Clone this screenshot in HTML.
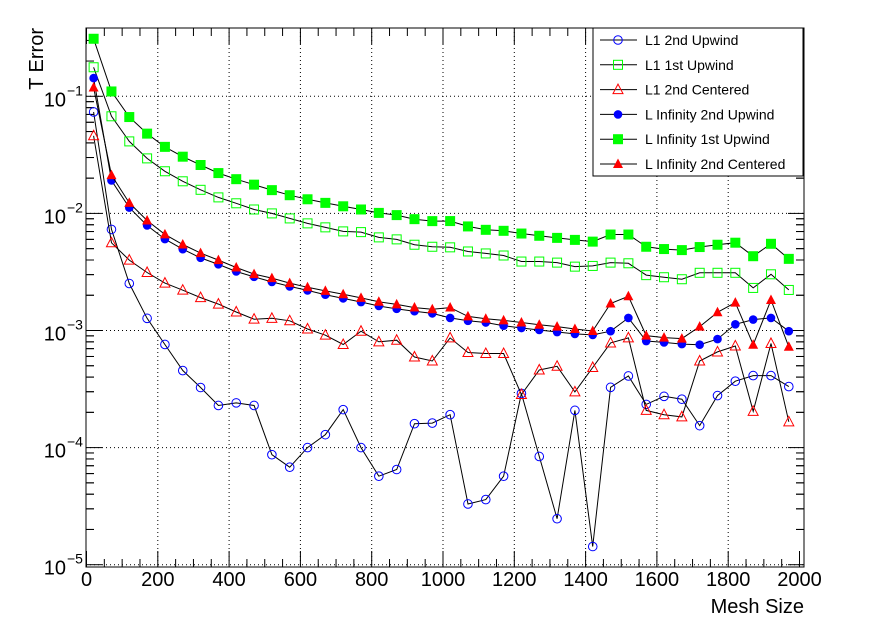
<!DOCTYPE html>
<html><head><meta charset="utf-8"><style>
body{margin:0;background:#fff;}
svg{display:block;font-family:"Liberation Sans",Arial,sans-serif;}
</style></head><body>
<svg id="chart" width="888" height="631" viewBox="0 0 888 631" xmlns="http://www.w3.org/2000/svg">
<rect width="888" height="631" fill="#fff"/>
<g id="grid"></g>
<g id="axes"></g>
<g id="series"></g>
<rect x="86" y="28" width="718" height="539" fill="none" stroke="#000" stroke-width="1"/>
<text x="804" y="613" text-anchor="end" font-size="20">Mesh Size</text>
<text transform="translate(43,28) rotate(-90)" text-anchor="end" font-size="20">T Error</text>
<g id="legend">
<rect x="593" y="28" width="210" height="148" fill="#fff" stroke="#000" stroke-width="1"/>
</g>
</svg>
<script>
const xValues=[20,70,120,170,220,270,320,370,420,470,520,570,620,670,720,770,820,870,920,970,1020,1070,1120,1170,1220,1270,1320,1370,1420,1470,1520,1570,1620,1670,1720,1770,1820,1870,1920,1970];
const l1SecondUpwind=[0.0735,0.0073,0.00252,0.00127,0.00076,0.000455,0.000326,0.000229,0.000241,0.000229,8.7e-5,6.8e-5,1.0e-4,0.000129,0.000211,1.0e-4,5.7e-5,6.5e-5,0.00016,0.000162,0.000191,3.3e-5,3.6e-5,5.7e-5,0.00029,8.4e-5,2.47e-5,0.000208,1.43e-5,0.000327,0.000409,0.000234,0.000274,0.000259,0.000154,0.000278,0.000369,0.000412,0.000412,0.000332];
const l1FirstUpwind=[0.177,0.0675,0.0412,0.0295,0.0229,0.0188,0.0159,0.0137,0.0122,0.0108,0.0100,0.00906,0.00822,0.0076,0.00702,0.00692,0.00624,0.006,0.0054,0.00519,0.00513,0.00473,0.00455,0.00437,0.00388,0.00388,0.0038,0.00351,0.00356,0.0038,0.00375,0.00297,0.00285,0.00274,0.00311,0.00311,0.00311,0.00231,0.00302,0.00222];
const l1SecondCentered=[0.046,0.00561,0.00399,0.00313,0.00254,0.00221,0.00191,0.00168,0.00144,0.00125,0.00127,0.00121,0.00103,0.000912,0.000759,0.000986,0.0008,0.000826,0.000594,0.000549,0.000865,0.000649,0.000636,0.000636,0.000284,0.00046,0.000495,0.000299,0.000483,0.000783,0.000865,0.000208,0.000191,0.000183,0.000549,0.000656,0.000738,0.000204,0.000775,0.000166];
const lInfSecondUpwind=[0.143,0.0191,0.0112,0.00789,0.00603,0.00495,0.00417,0.00367,0.00319,0.00287,0.0026,0.00238,0.0022,0.00202,0.00188,0.00175,0.00162,0.00153,0.00146,0.0014,0.00128,0.00121,0.00117,0.0011,0.00105,0.00101,0.00097,0.000935,0.000917,0.000986,0.00128,0.000813,0.000791,0.000765,0.000757,0.000845,0.00113,0.00124,0.00128,0.000986];
const lInfFirstUpwind=[0.31,0.11,0.0665,0.048,0.037,0.0305,0.0259,0.0221,0.0196,0.0176,0.0158,0.0143,0.0132,0.0123,0.0115,0.0108,0.0101,0.00967,0.00893,0.00859,0.0086,0.00774,0.00724,0.0071,0.00673,0.00644,0.00618,0.00594,0.00574,0.0066,0.0066,0.00519,0.00496,0.00486,0.00516,0.0054,0.00562,0.00431,0.0055,0.00409];
const lInfSecondCentered=[0.119,0.0212,0.0123,0.0087,0.00662,0.00543,0.00458,0.00399,0.00345,0.00303,0.0028,0.00254,0.00234,0.00218,0.00204,0.0019,0.00176,0.00167,0.00157,0.00152,0.00157,0.00132,0.00126,0.00122,0.00117,0.00112,0.00108,0.00103,0.00099,0.0017,0.00196,0.000904,0.000869,0.000853,0.00108,0.00143,0.00173,0.000756,0.00182,0.000726];
const xTicks=[0,200,400,600,800,1000,1200,1400,1600,1800,2000];
const yDecades=[-5,-4,-3,-2,-1];
const legendLabels=["L1 2nd Upwind","L1 1st Upwind","L1 2nd Centered","L Infinity 2nd Upwind","L Infinity 1st Upwind","L Infinity 2nd Centered"];

const NS="http://www.w3.org/2000/svg";
const L=86,R=804,T=28,B=567;
function X(v){return 86.5+v*0.3565;}
function Y(v){return 96.3-(Math.log10(v)+1)*117.1;}
function mk(tag,attrs,parent){const e=document.createElementNS(NS,tag);for(const k in attrs)e.setAttribute(k,attrs[k]);parent.appendChild(e);return e;}
const grid=document.getElementById('grid'),axes=document.getElementById('axes'),series=document.getElementById('series'),legend=document.getElementById('legend');

// grid + x ticks
xTicks.forEach(t=>{
  const x=X(t);
  if(t>0&&t<2000){const g=mk('line',{x1:x,x2:x,y1:T,y2:B,stroke:'#000','stroke-width':1,'stroke-dasharray':'1,3'},grid);
  
  }
  mk('line',{x1:x,x2:x,y1:B,y2:B-16,stroke:'#000'},axes);
  mk('line',{x1:x,x2:x,y1:T,y2:T+16,stroke:'#000'},axes);
  const lb=mk('text',{x:x,y:586,'text-anchor':'middle','font-size':20},axes);
  lb.textContent=t;
  
  
});
for(let t=50;t<2010;t+=50){if(t%200===0)continue;const x=X(t);
  mk('line',{x1:x,x2:x,y1:B,y2:B-8,stroke:'#000'},axes);
  mk('line',{x1:x,x2:x,y1:T,y2:T+8,stroke:'#000'},axes);}
// y ticks
yDecades.forEach(d=>{
  const y=Y(Math.pow(10,d));
  const g=mk('line',{x1:L,x2:R,y1:y,y2:y,stroke:'#000','stroke-width':1,'stroke-dasharray':'1,3'},grid);
  
  
  mk('line',{x1:L,x2:L+16,y1:y,y2:y,stroke:'#000'},axes);
  mk('line',{x1:R,x2:R-16,y1:y,y2:y,stroke:'#000'},axes);
  const lb=mk('text',{x:66,y:y+10,'text-anchor':'end','font-size':20},axes);
  lb.textContent='10';
  
  
  const sp=mk('text',{x:67,y:y-1,'font-size':14},axes);
  sp.textContent='\u2212'+(-d);
  for(let m=2;m<=9;m++){for(const dd of [d,d-1]){const yy=Y(m*Math.pow(10,dd));if(yy>T&&yy<B){
    mk('line',{x1:L,x2:L+8,y1:yy,y2:yy,stroke:'#000'},axes);
    mk('line',{x1:R,x2:R-8,y1:yy,y2:yy,stroke:'#000'},axes);}}}
});

function marker(parent,type,color,x,y){
  if(type==='circle-open')return mk('circle',{cx:x,cy:y,r:4.3,fill:'none',stroke:color,'stroke-width':1},parent);
  if(type==='circle')return mk('circle',{cx:x,cy:y,r:4.3,fill:color},parent);
  if(type==='square-open')return mk('rect',{x:x-4.5,y:y-4.5,width:9,height:9,fill:'none',stroke:color,'stroke-width':1},parent);
  if(type==='square')return mk('rect',{x:x-5,y:y-5,width:10,height:10,fill:color},parent);
  const pts=`${x},${y-5.5} ${x+5},${y+4} ${x-5},${y+4}`;
  if(type==='tri-open')return mk('polygon',{points:pts,fill:'none',stroke:color,'stroke-width':1},parent);
  return mk('polygon',{points:pts,fill:color},parent);
}
const defs=[
 [l1SecondUpwind,'circle-open','#0000ff','l1-2nd-upwind'],
 [l1FirstUpwind,'square-open','#00ff00','l1-1st-upwind'],
 [l1SecondCentered,'tri-open','#ff0000','l1-2nd-centered'],
 [lInfSecondUpwind,'circle','#0000ff','linf-2nd-upwind'],
 [lInfFirstUpwind,'square','#00ff00','linf-1st-upwind'],
 [lInfSecondCentered,'tri','#ff0000','linf-2nd-centered']
];
defs.forEach(([vals,type,color,name])=>{
  const g=mk('g',{},series);
  
  
  const pts=vals.map((v,i)=>X(xValues[i]).toFixed(1)+','+Y(v).toFixed(1)).join(' ');
  mk('polyline',{points:pts,fill:'none',stroke:'#000','stroke-width':1},g);
  vals.forEach((v,i)=>{const m=marker(g,type,color,X(xValues[i]),Y(v));
    
    });
});
legendLabels.forEach((lab,i)=>{
  const y=40+i*24.8;
  const g=mk('g',{},legend);
  
  
  mk('line',{x1:600,x2:637,y1:y,y2:y,stroke:'#000'},g);
  marker(g,defs[i][1],defs[i][2],618,y);
  const t=mk('text',{x:645,y:y+5,'font-size':14},g);
  t.textContent=lab;
});
</script>
</body></html>
